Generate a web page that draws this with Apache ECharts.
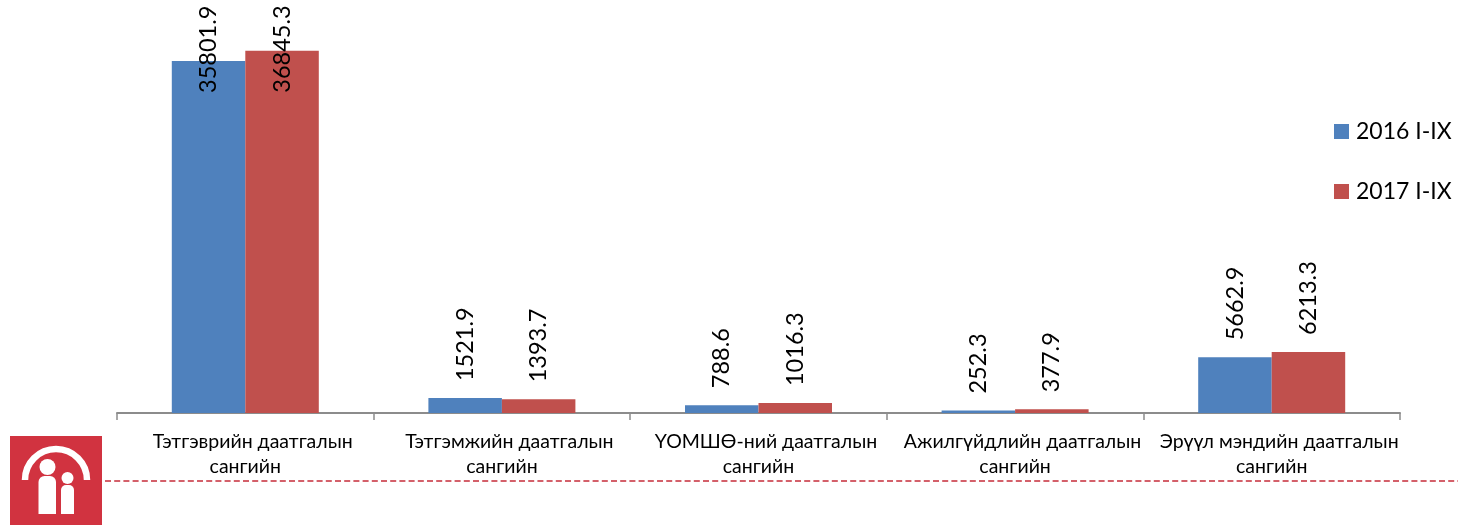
<!DOCTYPE html>
<html><head><meta charset="utf-8">
<style>html,body{margin:0;padding:0;background:#fff}#c{width:1458px;height:525px}</style>
<script src="https://cdn.jsdelivr.net/npm/echarts@6/dist/echarts.min.js"></script>
</head><body><div id="c"></div>
<script>
var categories = ["Тэтгэврийн даатгалын\nсангийн","Тэтгэмжийн даатгалын\nсангийн","ҮОМШӨ-ний даатгалын\nсангийн","Ажилгүйдлийн даатгалын\nсангийн","Эрүүл мэндийн даатгалын\nсангийн"];
var series2016 = [35801.9,1521.9,788.6,252.3,5662.9];
var series2017 = [36845.3,1393.7,1016.3,377.9,6213.3];
var seriesNames = ["2016 I-IX","2017 I-IX"];
var FONT = 'Lato, "Noto Sans", sans-serif';
var TALL = 20000;
function labelFor(v, inset){
  return {show:true, position:'top', rotate:90, align:'left', verticalAlign:'middle',
    distance: v > TALL ? inset : 16, offset:[1,0],
    formatter:function(p){return p.value.toFixed(1);},
    fontFamily:FONT, fontSize:23.5, color:'#000'};
}
function items(arr, inset){
  return arr.map(function(v){return {value:v, label:labelFor(v, inset)};});
}
var chart = echarts.init(document.getElementById('c'));
chart.setOption({
  animation:false,
  backgroundColor:'#fff',
  grid:{left:117,right:58,top:0,height:413,containLabel:false},
  legend:{orient:'vertical',left:1329,top:115,itemWidth:15,itemHeight:15,itemGap:37,
    icon:'rect',data:seriesNames,
    textStyle:{fontFamily:FONT,fontSize:23,color:'#000',padding:[0,0,0,2]}},
  xAxis:{type:'category',data:categories,
    axisLine:{lineStyle:{color:'#8c8c8c',width:2}},
    axisTick:{show:true,length:7,lineStyle:{color:'#8c8c8c',width:1.5}},
    axisLabel:{interval:0,margin:16,fontFamily:FONT,fontSize:19.5,lineHeight:25,color:'#000',
      formatter:function(v){return '\u00a0\u00a0\u00a0'+v;}}},
  yAxis:{type:'value',min:0,max:42000,show:false,splitLine:{show:false}},
  series:[
    {name:seriesNames[0],type:'bar',data:items(series2016,-33),barWidth:73.5,barGap:'0%',
     itemStyle:{color:'#4f81bd'}},
    {name:seriesNames[1],type:'bar',data:items(series2017,-43),barWidth:73.5,barGap:'0%',
     itemStyle:{color:'#c0504d'}}
  ],
  graphic:[
    {type:'line',shape:{x1:105,y1:481,x2:1458,y2:481},
     style:{stroke:'#d4606a',lineWidth:2,lineDash:[6,3.2]}},
    {type:'rect',shape:{x:10,y:436,width:92,height:89},style:{fill:'#d13340'}},
    {type:'arc',shape:{cx:56,cy:480,r:31,startAngle:Math.PI,endAngle:2*Math.PI},
     style:{stroke:'#fff',fill:'none',lineWidth:6.5}},
    {type:'circle',shape:{cx:47.5,cy:467,r:8},style:{fill:'#fff'}},
    {type:'rect',shape:{x:38.5,y:476,width:17.5,height:38,r:[6,6,0,0]},style:{fill:'#fff'}},
    {type:'circle',shape:{cx:67.5,cy:478,r:6},style:{fill:'#fff'}},
    {type:'rect',shape:{x:61,y:485,width:13,height:29,r:[5,5,0,0]},style:{fill:'#fff'}}
  ]
});
</script></body></html>
